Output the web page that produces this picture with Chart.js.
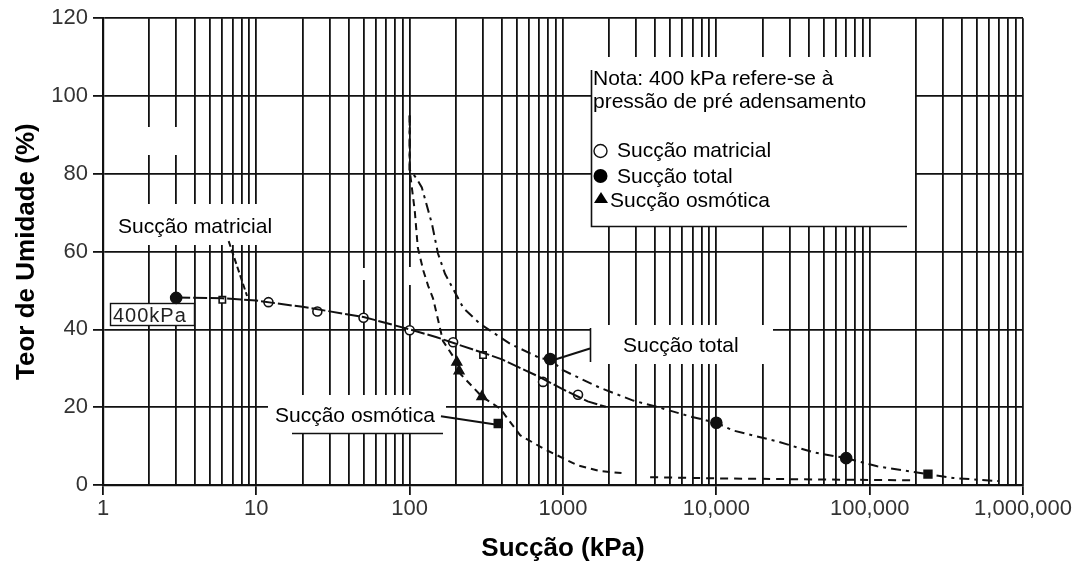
<!DOCTYPE html>
<html lang="pt">
<head>
<meta charset="utf-8">
<title>Sucção x Teor de Umidade</title>
<script src="https://cdn.jsdelivr.net/npm/chart.js@4.4.1/dist/chart.umd.min.js"></script>
<style>
  html, body { margin: 0; padding: 0; background: #fff; }
  #chart { display: block; }
</style>
</head>
<body>
<canvas id="chart" width="1078" height="583"></canvas>
<script>
// --- Axis ticks ---
const xTickValues = [1, 10, 100, 1000, 10000, 100000, 1000000];
const xTickLabels = ['1', '10', '100', '1000', '10,000', '100,000', '1,000,000'];
const yTickValues = [0, 20, 40, 60, 80, 100, 120];

const matricialX = [6, 12, 25, 50, 100, 192, 301, 741, 1253];
const matricialY = [47.6, 47, 44.6, 43, 39.8, 36.7, 33.4, 26.5, 23.2];
const totalX = [3, 824, 10000, 70300, 240000];
const totalY = [48.1, 32.4, 16, 6.9, 2.8];
const osmoticX = [203, 210, 296, 378];
const osmoticY = [31.6, 29.3, 22.7, 15.8];

// --- Hand drawn curves ---
const matricialCurveX = [3, 6, 10, 20, 50, 100, 150, 200, 300, 400, 700, 1000, 1450, 1900];
const matricialCurveY = [48.2, 48, 47.4, 45.8, 43.2, 40, 38, 36.3, 34, 32.3, 27.8, 24.6, 21.5, 20.1];
const totalCurveX = [100, 100, 110, 120, 140, 153, 170, 224, 288, 452, 710, 824, 1000, 1740, 2870, 4100, 6760, 10000, 12900, 25000, 43000, 70000, 112000, 240000, 350000, 700000];
const totalCurveY = [95, 81, 79, 76.5, 67, 59.5, 54.3, 45.5, 41.4, 36.3, 32.6, 32.2, 29.5, 25, 21.7, 20.1, 17.6, 16, 14, 11.2, 8.4, 6.9, 4.8, 2.8, 1.8, 1.0];
const osmoticCurveX = [100, 100, 108, 113, 123, 132, 142, 150, 165, 203, 215, 296, 390, 525, 742, 1240, 1740, 2500];
const osmoticCurveY = [95, 81, 70.4, 61, 55, 51.2, 48, 44, 37, 31.6, 28.5, 22.7, 19.6, 12.8, 9.4, 5.1, 3.6, 3.0];
const tailCurveX = [3700, 10000, 30000, 100000, 200000];
const tailCurveY = [2.0, 1.7, 1.5, 1.3, 1.2];

// --- Leader lines from the labels ---
const matricialLeaderX = [6.6, 8.7];
const matricialLeaderY = [62.7, 48.6];
const osmoticLeaderX = [160, 372];
const osmoticLeaderY = [17.7, 15.5];
const totalLeaderX = [1500, 790];
const totalLeaderY = [35.1, 31.6];

const FONT = "'Liberation Sans', Arial, sans-serif";
const INK = '#111';

const pts = (xs, ys) => xs.map((x, i) => ({ x: x, y: ys[i] }));

// every 1..9 x 10^n for the log grid
const xGridValues = [];
for (let d = 1; d < 1000000; d *= 10) {
    for (let m = 1; m < 10; m++) xGridValues.push(m * d);
}
xGridValues.push(1000000);

function curve(xs, ys, dash) {
    return {
        data: pts(xs, ys),
        showLine: true,
        borderColor: INK,
        borderWidth: 2,
        borderDash: dash,
        pointRadius: 0,
        fill: false
    };
}

function markers(xs, ys, style, radius, fillColor) {
    return {
        data: pts(xs, ys),
        showLine: false,
        pointStyle: style,
        pointRadius: radius,
        pointBackgroundColor: fillColor,
        pointBorderColor: INK,
        pointBorderWidth: 1.6
    };
}

// --- White label boxes, drawn over the grid but under the data ---
const labelPlugin = {
    id: 'labels',
    beforeDatasetsDraw(chart) {
        const c = chart.ctx;
        c.save();
        c.fillStyle = '#fff';
        // blank patches
        c.fillRect(140, 127, 46, 28);
        c.fillRect(357, 268, 8, 12);
        c.fillRect(404, 267, 8, 18);
        // label backgrounds
        c.fillRect(110, 204, 166, 41);
        c.fillRect(591, 57, 324, 169);
        c.fillRect(590, 325, 183, 39);
        c.fillRect(268, 395, 178, 38);
        c.fillRect(110, 303, 85, 23);

        c.strokeStyle = INK;
        c.lineWidth = 1.6;
        c.beginPath();
        // nota box: left + bottom edge
        c.moveTo(591.5, 70); c.lineTo(591.5, 226.5); c.lineTo(907, 226.5);
        // total label left edge
        c.moveTo(590.5, 328); c.lineTo(590.5, 362);
        // osmotic label underline
        c.moveTo(292, 433.5); c.lineTo(443, 433.5);
        c.stroke();
        c.lineWidth = 1.4;
        c.strokeRect(110.5, 303.5, 84, 22);

        c.fillStyle = '#000';
        c.textBaseline = 'alphabetic';
        c.textAlign = 'left';
        c.font = '21px ' + FONT;
        c.fillText('Sucção matricial', 118, 233);
        c.fillText('Nota: 400 kPa refere-se à', 593, 85);
        c.fillText('pressão de pré adensamento', 593, 108);
        c.fillText('Sucção matricial', 617, 157);
        c.fillText('Sucção total', 617, 183);
        c.fillText('Sucção osmótica', 610, 207);
        c.fillText('Sucção total', 623, 352);
        c.fillText('Sucção osmótica', 275, 422);

        // legend symbols
        c.lineWidth = 1.4;
        c.beginPath(); c.arc(600.5, 151, 6.5, 0, Math.PI * 2); c.stroke();
        c.beginPath(); c.arc(600.5, 176, 7, 0, Math.PI * 2); c.fill();
        c.beginPath(); c.moveTo(601, 192); c.lineTo(608, 203); c.lineTo(594, 203); c.closePath(); c.fill();

        // 400 kPa tag
        c.font = '20px ' + FONT;
        if ('letterSpacing' in c) c.letterSpacing = '1px';
        c.fillStyle = '#222';
        c.fillText('400kPa', 113, 322);
        c.restore();
    }
};

const ctx = document.getElementById('chart').getContext('2d');
const chart = new Chart(ctx, {
    type: 'scatter',
    data: {
        datasets: [
            curve(matricialCurveX, matricialCurveY, [14, 3]),
            curve(totalCurveX, totalCurveY, [10, 5, 3, 5]),
            curve(osmoticCurveX, osmoticCurveY, [7, 5]),
            curve(tailCurveX, tailCurveY, [8, 6]),
            curve(matricialLeaderX, matricialLeaderY, [6, 3]),
            curve(osmoticLeaderX, osmoticLeaderY, []),
            curve(totalLeaderX, totalLeaderY, []),
            markers(matricialX, matricialY, ['rect', 'circle', 'circle', 'circle', 'circle', 'circle', 'rect', 'circle', 'circle'], 4.5, '#fff'),
            markers(totalX, totalY, ['circle', 'circle', 'circle', 'circle', 'rect'], 5.5, INK),
            markers(osmoticX, osmoticY, ['triangle', 'triangle', 'triangle', 'rect'], 5.5, INK)
        ]
    },
    options: {
        responsive: false,
        animation: false,
        devicePixelRatio: 1,
        layout: { padding: { left: 0, top: 16, right: 55, bottom: 0 } },
        plugins: {
            legend: { display: false },
            tooltip: { enabled: false }
        },
        scales: {
            x: {
                type: 'logarithmic',
                position: 'bottom',
                min: 1,
                max: 1000000,
                afterBuildTicks: (s) => { s.ticks = xGridValues.map(v => ({ value: v })); },
                afterFit: (s) => { s.height = 98; },
                ticks: {
                    autoSkip: false,
                    maxRotation: 0,
                    padding: 1,
                    color: '#333',
                    font: { family: FONT, size: 22 },
                    callback: (v) => {
                        const i = xTickValues.indexOf(v);
                        return i >= 0 ? xTickLabels[i] : '';
                    }
                },
                grid: {
                    color: INK,
                    lineWidth: 1.8,
                    tickLength: 10,
                    tickColor: (c) => (c.tick && xTickValues.includes(c.tick.value)) ? INK : 'rgba(0,0,0,0)'
                },
                border: { color: INK, width: 2.2 },
                title: {
                    display: true,
                    text: 'Sucção (kPa)',
                    color: '#000',
                    font: { family: FONT, size: 26, weight: 'bold' },
                    padding: { top: 0, bottom: 19 }
                }
            },
            y: {
                min: 0,
                max: 120,
                afterBuildTicks: (s) => { s.ticks = yTickValues.map(v => ({ value: v })); },
                afterFit: (s) => { s.width = 103; },
                ticks: {
                    padding: 5,
                    color: '#333',
                    font: { family: FONT, size: 22 }
                },
                grid: {
                    color: INK,
                    lineWidth: 1.8,
                    tickLength: 10,
                    tickColor: INK
                },
                border: { color: INK, width: 2.2 },
                title: {
                    display: true,
                    text: 'Teor de Umidade (%)',
                    color: '#000',
                    font: { family: FONT, size: 26, weight: 'bold' },
                    padding: { top: 11, bottom: 0 }
                }
            }
        }
    },
    plugins: [labelPlugin]
});
</script>
</body>
</html>
